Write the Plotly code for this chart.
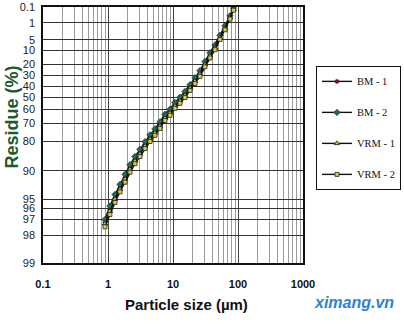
import numpy as np
import plotly.graph_objects as go

# Particle size classes (µm)
sizes = [0.90, 1.07, 1.28, 1.53, 1.83, 2.18, 2.60, 3.10, 3.71, 4.43, 5.28, 6.31, 7.53, 8.99,
         10.7, 12.8, 15.3, 18.3, 21.8, 26.0, 31.0, 37.1, 44.3, 52.8, 63.1, 75.3, 85.1]

# Cumulative residue (%) for each sample
bm1 = [97.2, 96.2, 94.9, 93.4, 91.6, 89.3, 87.0, 84.6, 81.5, 78.3, 75.2, 71.1, 65.9, 62.2,
       56.7, 52.5, 47.4, 40.9, 34.4, 27.7, 19.6, 13.0, 8.3, 4.0, 1.66, 0.48, 0.14]
bm2 = [97.0, 95.8, 94.4, 92.8, 90.8, 88.4, 85.9, 83.3, 80.1, 76.8, 73.5, 69.2, 64.0, 60.1,
       54.6, 50.2, 45.0, 38.6, 32.2, 25.6, 17.9, 11.7, 7.3, 3.5, 1.4, 0.40, 0.12]
vrm1 = [97.3, 96.3, 95.0, 93.6, 91.8, 89.6, 87.3, 85.0, 82.0, 78.9, 75.8, 71.8, 66.7, 63.0,
        57.6, 53.4, 48.4, 41.9, 35.4, 28.7, 20.5, 13.7, 8.8, 4.3, 1.8, 0.52, 0.15]
vrm2 = [97.5, 96.6, 95.4, 94.0, 92.4, 90.3, 88.1, 85.9, 83.0, 80.0, 77.0, 73.2, 68.3, 64.7,
        59.4, 55.3, 50.4, 44.0, 37.5, 30.8, 22.3, 15.2, 9.8, 4.9, 2.1, 0.62, 0.17]

series_names = ["BM - 1", "BM - 2", "VRM - 1", "VRM - 2"]

# Axis ticks
residue_ticks = [0.1, 1, 5, 10, 20, 30, 40, 50, 60, 70, 80, 90, 95, 96, 97, 98, 99]
size_ticks = [0.1, 1, 10, 100, 1000]
size_tick_labels = ["0.1", "1", "10", "100", "1000"]


def rrsb(residue):
    """Rosin-Rammler-Sperling-Bennett scale: ln(ln(100/R))."""
    r = np.asarray(residue, dtype=float)
    return np.log(np.log(100.0 / r))


styles = [
    dict(symbol="circle", size=4, color="#7a1426", line=dict(color="#3a0a12", width=0.5)),
    dict(symbol="diamond", size=5, color="#1f6b55", line=dict(color="#0d2a22", width=0.6)),
    dict(symbol="triangle-up", size=5, color="#d4c02a", line=dict(color="#222", width=0.8)),
    dict(symbol="square", size=4, color="#e0cc48", line=dict(color="#222", width=0.8)),
]

fig = go.Figure()
for i, (name, vals) in enumerate(zip(series_names, [bm1, bm2, vrm1, vrm2])):
    fig.add_trace(go.Scatter(
        x=sizes, y=rrsb(vals), name=name, mode="lines+markers",
        line=dict(color="#111", width=1.4),
        marker=styles[i], legendgroup=name,
    ))

minor_vals = [m * 10.0 ** e for e in range(-1, 3) for m in range(2, 10)]

fig.update_xaxes(
    type="log", range=[-1, 3],
    tickvals=size_ticks, ticktext=size_tick_labels,
    tickfont=dict(family="Arial", size=11, color="#111", weight="bold"),
    ticks="", ticklabelstandoff=10,
    showgrid=True, gridcolor="#444", gridwidth=1,
    minor=dict(tickvals=minor_vals, showgrid=True, gridcolor="#9a9a9a", gridwidth=1, ticks=""),
    showline=True, linecolor="#111", linewidth=1.5, mirror=True, zeroline=False,
)

y_top = float(rrsb([0.1])[0])
y_bot = float(rrsb([99])[0])
fig.update_yaxes(
    range=[y_bot, y_top],
    tickvals=list(rrsb(residue_ticks)), ticktext=[f"{t:g}" for t in residue_ticks],
    tickfont=dict(family="Arial", size=11, color="#222"),
    ticks="", ticklabelstandoff=4,
    showgrid=True, gridcolor="#333", gridwidth=1,
    showline=True, linecolor="#111", linewidth=1.5, mirror=True, zeroline=False,
)

fig.add_annotation(
    text="Residue (%)", textangle=-90, xref="paper", yref="paper",
    x=-0.118, y=0.57, xanchor="center", yanchor="middle", showarrow=False,
    font=dict(family="Arial", size=18, color="#1d5a2c", weight="bold"),
)
fig.add_annotation(
    text="Particle size (µm)", xref="paper", yref="paper",
    x=0.55, y=-0.164, xanchor="center", yanchor="middle", showarrow=False,
    font=dict(family="Arial", size=15, color="#111", weight="bold"),
)
fig.add_annotation(
    text="<i>ximang.vn</i>", xref="paper", yref="paper",
    x=1.195, y=-0.156, xanchor="center", yanchor="middle", showarrow=False,
    font=dict(family="Arial", size=16, color="#2a83d4", weight="bold"),
)

fig.update_layout(
    width=404, height=324,
    margin=dict(l=43, r=101, t=7, b=61, autoexpand=False),
    paper_bgcolor="white", plot_bgcolor="white",
    showlegend=True,
    legend=dict(
        x=1.05, y=0.77, xanchor="left", yanchor="top",
        bordercolor="#111", borderwidth=1, bgcolor="white",
        font=dict(family="Liberation Serif", size=10.5, color="#111"),
        traceorder="grouped", tracegroupgap=12, itemwidth=30,
    ),
)

fig.write_html("out.html")
